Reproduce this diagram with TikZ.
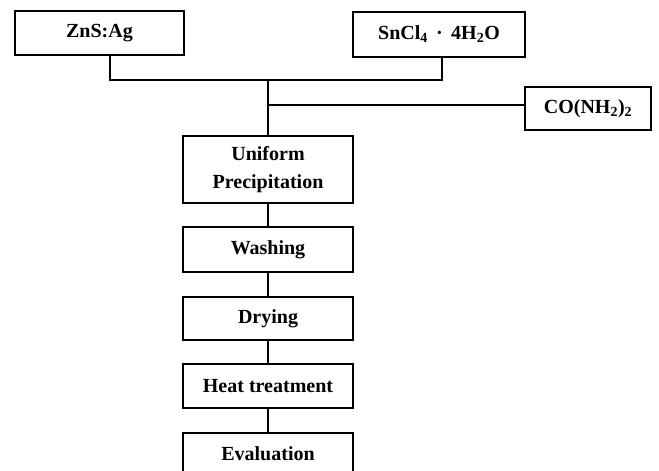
\documentclass[tikz,border=0pt]{standalone}
\usepackage{fontspec}
\setmainfont{Liberation Serif}
\begin{document}
\begin{tikzpicture}[x=1pt,y=-1pt,
  box/.style={draw, line width=1.3pt, inner sep=0pt, align=center,
    font=\fontsize{20}{28}\selectfont\bfseries},
  conn/.style={line width=1.3pt}]
\useasboundingbox (0,0) rectangle (659,471);
\node[box, minimum width=169pt, minimum height=44pt] (zns) at (99.5,33) {ZnS:Ag};
\node[box, minimum width=172pt, minimum height=45pt] (sncl) at (439,34.5) {SnCl\textsubscript{4}\ \,·\ \,4H\textsubscript{2}O};
\node[box, minimum width=126pt, minimum height=43pt] (co) at (588,108.5) {CO(NH\textsubscript{2})\textsubscript{2}};
\node[box, minimum width=170pt, minimum height=67pt] (unif) at (268,169.5) {Uniform\\Precipitation};
\node[box, minimum width=170pt, minimum height=45pt] (wash) at (268,249.5) {Washing};
\node[box, minimum width=170pt, minimum height=43pt] (dry) at (268,318.5) {Drying};
\node[box, minimum width=170pt, minimum height=44pt] (heat) at (268,386) {Heat treatment};
\node[box, minimum width=170pt, minimum height=42pt] (eval) at (268,454) {Evaluation};
\coordinate (ja) at (110,80);
\coordinate (jb) at (442,80);
\coordinate (jm) at (268,80);
\coordinate (jc) at (268,105);
\draw[conn] (zns.south -| ja) -- (ja) -- (jb) -- (sncl.south -| jb);
\draw[conn] (jm) -- (unif.north);
\draw[conn] (jc) -- (jc -| co.west);
\draw[conn] (unif) -- (wash);
\draw[conn] (wash) -- (dry);
\draw[conn] (dry) -- (heat);
\draw[conn] (heat) -- (eval);
\end{tikzpicture}
\end{document}
